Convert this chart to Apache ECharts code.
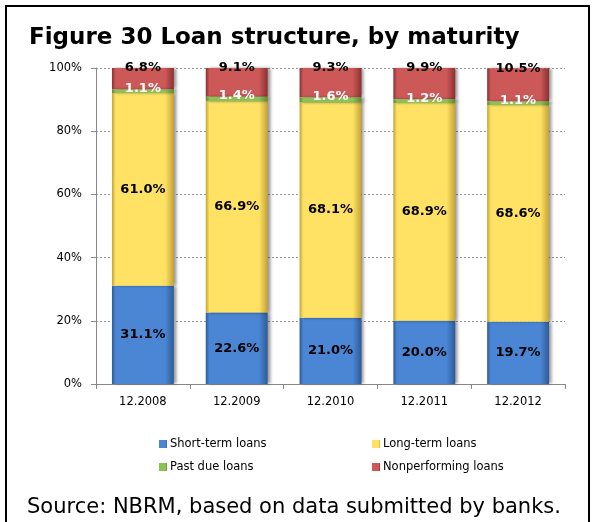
<!DOCTYPE html>
<html>
<head>
<meta charset="utf-8">
<script src="https://cdn.jsdelivr.net/npm/echarts@6/dist/echarts.min.js"></script>
<style>
  html, body { margin: 0; padding: 0; background: #fff; }
  #chart { width: 592px; height: 522px; }
</style>
</head>
<body>
<div id="chart"></div>
<script>
// Loan structure by maturity, shares of total loans (%)
const categories = ['12.2008', '12.2009', '12.2010', '12.2011', '12.2012'];
const shortTerm = [31.1, 22.6, 21.0, 20.0, 19.7];
const longTerm = [61.0, 66.9, 68.1, 68.9, 68.6];
const pastDue = [1.1, 1.4, 1.6, 1.2, 1.1];
const nonPerforming = [6.8, 9.1, 9.3, 9.9, 10.5];
const yTicks = [0, 20, 40, 60, 80, 100];

const seriesNames = ['Short-term loans', 'Long-term loans', 'Past due loans', 'Nonperforming loans'];

// bevelled fill: darker side edges around the main colour
function bevel(main, edge) {
  return new echarts.graphic.LinearGradient(0, 0, 1, 0, [
    { offset: 0, color: edge },
    { offset: 0.06, color: main },
    { offset: 0.86, color: main },
    { offset: 1, color: edge }
  ]);
}

const baseFont = 'DejaVu Sans, Verdana, sans-serif';

function labelFmt(p) { return p.value.toFixed(1) + '%'; }

const chart = echarts.init(document.getElementById('chart'), null, { renderer: 'canvas' });

const legendPos = [
  { left: 154, top: 433 },
  { left: 367, top: 433 },
  { left: 154, top: 456 },
  { left: 367, top: 456 }
];

const barShadow = { shadowColor: 'rgba(0,0,0,0.4)', shadowBlur: 3, shadowOffsetX: 3 };

const option = {
  animation: false,
  backgroundColor: '#fff',
  title: {
    text: 'Figure 30 Loan structure, by maturity',
    left: 24,
    top: 22,
    textStyle: { fontFamily: baseFont, fontWeight: 'bold', fontSize: 23, color: '#000' }
  },
  graphic: [
    {
      type: 'rect',
      shape: { x: 6, y: 6, width: 583, height: 530 },
      style: { fill: 'none', stroke: '#000', lineWidth: 2 },
      silent: true
    },
    {
      type: 'text',
      left: 27,
      top: 497,
      style: {
        text: 'Source: NBRM, based on data submitted by banks.',
        font: '21px ' + baseFont,
        fill: '#000'
      },
      silent: true
    }
  ],
  legend: seriesNames.map((n, i) => ({
    data: [n],
    left: legendPos[i].left,
    top: legendPos[i].top,
    icon: 'rect',
    itemWidth: 8,
    itemHeight: 8,
    itemGap: 4,
    textStyle: { fontFamily: baseFont, fontSize: 11.5, color: '#000', padding: [0, 0, 0, -2] }
  })),
  grid: { left: 96, right: 27, top: 68, bottom: 138 },
  xAxis: {
    type: 'category',
    data: categories,
    axisLine: { lineStyle: { color: '#888', width: 1 } },
    axisTick: { show: true, length: 5, lineStyle: { color: '#888' } },
    axisLabel: { fontFamily: baseFont, fontSize: 11.5, color: '#000', margin: 12 }
  },
  yAxis: {
    type: 'value',
    min: yTicks[0],
    max: yTicks[yTicks.length - 1],
    interval: yTicks[1] - yTicks[0],
    axisLine: { show: true, lineStyle: { color: '#888', width: 1 } },
    axisTick: { show: true, length: 5, lineStyle: { color: '#888' } },
    axisLabel: { fontFamily: baseFont, fontSize: 11.5, color: '#000', margin: 14, formatter: '{value}%' },
    splitLine: { show: true, lineStyle: { color: '#999', type: [2, 2], width: 1 } }
  },
  series: [
    {
      name: seriesNames[0],
      type: 'bar',
      stack: 'loans',
      data: shortTerm,
      barCategoryGap: '34%',
      itemStyle: Object.assign({ color: bevel('#4A86D4', '#2E5A98') }, barShadow),
      label: { show: true, position: 'inside', formatter: labelFmt, fontFamily: baseFont, fontWeight: 'bold', fontSize: 13, color: '#000' }
    },
    {
      name: seriesNames[1],
      type: 'bar',
      stack: 'loans',
      data: longTerm,
      itemStyle: Object.assign({ color: bevel('#FFE264', '#C4A334') }, barShadow),
      label: { show: true, position: 'inside', formatter: labelFmt, fontFamily: baseFont, fontWeight: 'bold', fontSize: 13, color: '#000' }
    },
    {
      name: seriesNames[2],
      type: 'bar',
      stack: 'loans',
      data: pastDue,
      itemStyle: Object.assign({ color: bevel('#8CC153', '#5B8A2C') }, barShadow),
      label: { show: true, position: ['50%', -1], align: 'center', verticalAlign: 'middle', formatter: labelFmt, fontFamily: baseFont, fontWeight: 'bold', fontSize: 13, color: '#fff' },
      z: 3
    },
    {
      name: seriesNames[3],
      type: 'bar',
      stack: 'loans',
      data: nonPerforming,
      itemStyle: Object.assign({ color: bevel('#CD5858', '#8C3030') }, barShadow),
      label: { show: true, position: ['50%', 0], align: 'center', verticalAlign: 'middle', formatter: labelFmt, fontFamily: baseFont, fontWeight: 'bold', fontSize: 13, color: '#000' },
      z: 2
    }
  ]
};

chart.setOption(option);
</script>
</body>
</html>
